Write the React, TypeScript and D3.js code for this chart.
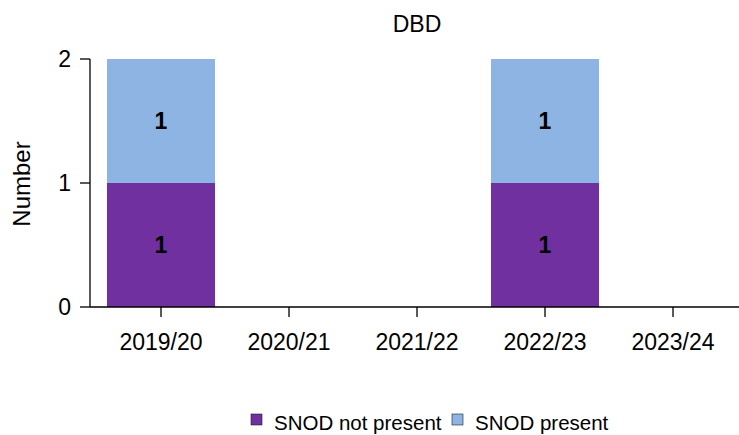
import React from "react";
import * as d3 from "d3";

const categories = ["2019/20", "2020/21", "2021/22", "2022/23", "2023/24"];
const notPresent = [1, 0, 0, 1, 0];
const present = [1, 0, 0, 1, 0];
const seriesNames = ["SNOD not present", "SNOD present"];
const colors = ["#7030A0", "#8EB4E3"];
const yTicks = [0, 1, 2];

export default function App() {
  const W = 739, H = 435;
  const x = d3.scaleBand<string>().domain(categories).range([97, 737]).paddingInner(0.156).paddingOuter(0.078);
  const y = d3.scaleLinear().domain([0, 2]).range([307, 59]);
  const font = "'Liberation Sans', Arial, sans-serif";
  const series = [notPresent, present];
  return (
    <svg width={W} height={H} style={{ position: "absolute", left: 0, top: 0, background: "#fff" }} fontFamily={font}>
      <text x={417} y={32} textAnchor="middle" fontSize={23}>DBD</text>
      {categories.map((c, i) => {
        let base = 0;
        return series.map((s, k) => {
          const v = s[i];
          const y0 = base;
          base += v;
          if (!v) return null;
          return (
            <g key={c + k}>
              <rect x={x(c)} y={y(y0 + v)} width={x.bandwidth()} height={y(y0) - y(y0 + v)} fill={colors[k]} />
              <text x={(x(c) as number) + x.bandwidth() / 2} y={(y(y0) + y(y0 + v)) / 2} dy="0.36em" textAnchor="middle" fontSize={23} fontWeight="bold">{v}</text>
            </g>
          );
        });
      })}
      <line x1={90} x2={90} y1={59} y2={307} stroke="#000" strokeWidth={1.3} />
      <line x1={90} x2={739} y1={307} y2={307} stroke="#000" strokeWidth={1.3} />
      {yTicks.map((t) => (
        <g key={t}>
          <line x1={80} x2={90} y1={y(t)} y2={y(t)} stroke="#000" strokeWidth={1.3} />
          <text x={71} y={y(t)} dy="0.36em" textAnchor="end" fontSize={23}>{t}</text>
        </g>
      ))}
      {categories.map((c) => {
        const cx = (x(c) as number) + x.bandwidth() / 2;
        return (
          <g key={c}>
            <line x1={cx} x2={cx} y1={307} y2={317} stroke="#000" strokeWidth={1.3} />
            <text x={cx} y={350} textAnchor="middle" fontSize={23}>{c}</text>
          </g>
        );
      })}
      <text transform="translate(30,184) rotate(-90)" textAnchor="middle" fontSize={24}>Number</text>
      {seriesNames.map((n, k) => {
        const lx = [251, 452][k];
        return (
          <g key={n}>
            <rect x={lx} y={414} width={11} height={11} fill={colors[k]} stroke="#222" strokeWidth={0.6} />
            <text x={lx + 23} y={430} fontSize={20.5}>{n}</text>
          </g>
        );
      })}
    </svg>
  );
}
